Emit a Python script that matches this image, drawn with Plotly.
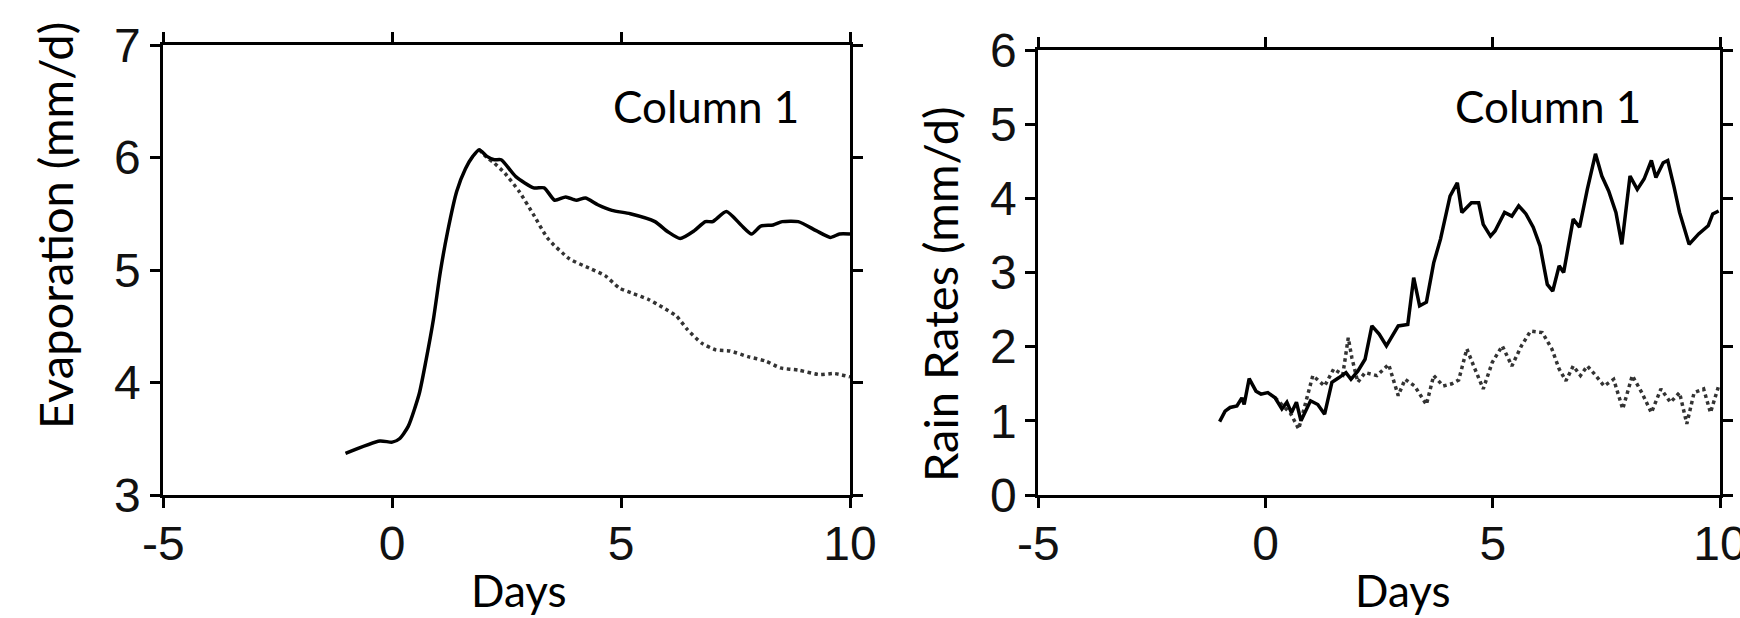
import plotly.graph_objects as go

# ---------------- data ----------------
# Left panel: Evaporation (mm/d)
evap_solid_days = [-1.02, -0.27, 0.0, 0.16, 0.35, 0.59, 0.74, 0.90, 1.05, 1.21, 1.41, 1.60, 1.76, 1.90,
                   2.07, 2.23, 2.38, 2.70, 3.09, 3.32, 3.55, 3.79, 4.02, 4.22, 4.49, 4.80, 5.20, 5.74,
                   6.02, 6.29, 6.60, 6.84, 7.00, 7.30, 7.62, 7.85, 8.05, 8.32, 8.52, 8.87, 9.26, 9.57,
                   9.77, 10.0]
evap_solid = [3.37, 3.48, 3.47, 3.50, 3.61, 3.90, 4.20, 4.56, 4.98, 5.34, 5.70, 5.90, 6.01, 6.07,
              6.01, 5.98, 5.98, 5.83, 5.73, 5.73, 5.62, 5.65, 5.62, 5.64, 5.58, 5.53, 5.50, 5.43,
              5.34, 5.28, 5.35, 5.43, 5.43, 5.52, 5.40, 5.32, 5.39, 5.40, 5.43, 5.43, 5.35, 5.29,
              5.32, 5.32]

evap_dot_days = [1.90, 2.07, 2.23, 2.46, 2.77, 3.09, 3.40, 3.87, 4.34, 4.65, 4.96, 5.27, 5.59, 5.90,
                 6.21, 6.45, 6.76, 7.07, 7.38, 7.77, 8.16, 8.48, 8.87, 9.34, 9.65, 10.0]
evap_dot = [6.07, 6.00, 5.95, 5.86, 5.70, 5.49, 5.28, 5.10, 5.01, 4.95, 4.84, 4.79, 4.74, 4.67,
            4.59, 4.47, 4.35, 4.29, 4.28, 4.23, 4.19, 4.13, 4.11, 4.07, 4.08, 4.05]

# Right panel: Rain Rates (mm/d)
rain_solid_days = [-1.01, -0.89, -0.78, -0.63, -0.52, -0.47, -0.36, -0.21, -0.10, 0.05, 0.21, 0.36,
                   0.47, 0.57, 0.68, 0.78, 0.99, 1.15, 1.30, 1.46, 1.61, 1.77, 1.88, 2.03, 2.19, 2.34,
                   2.50, 2.66, 2.92, 3.13, 3.26, 3.39, 3.54, 3.70, 3.85, 4.06, 4.22, 4.32, 4.53, 4.69,
                   4.79, 4.95, 5.05, 5.26, 5.42, 5.57, 5.73, 5.89, 6.04, 6.20, 6.32, 6.46, 6.56, 6.77,
                   6.91, 7.08, 7.26, 7.40, 7.55, 7.71, 7.84, 8.02, 8.18, 8.33, 8.49, 8.59, 8.75, 8.85,
                   8.99, 9.11, 9.32, 9.53, 9.74, 9.84, 9.97]
rain_solid = [0.99, 1.13, 1.18, 1.20, 1.31, 1.22, 1.57, 1.40, 1.36, 1.38, 1.31, 1.16,
              1.25, 1.11, 1.25, 1.00, 1.27, 1.22, 1.09, 1.52, 1.58, 1.65, 1.56, 1.67, 1.83, 2.28,
              2.17, 2.01, 2.28, 2.30, 2.93, 2.55, 2.60, 3.13, 3.45, 4.03, 4.21, 3.81, 3.94, 3.94,
              3.65, 3.49, 3.56, 3.81, 3.76, 3.90, 3.79, 3.61, 3.36, 2.84, 2.75, 3.09, 3.00, 3.72,
              3.61, 4.12, 4.60, 4.30, 4.10, 3.81, 3.38, 4.30, 4.12, 4.26, 4.51, 4.28, 4.48, 4.51,
              4.15, 3.81, 3.38, 3.52, 3.63, 3.79, 3.83]

rain_dot_days = [0.21, 0.40, 0.55, 0.73, 0.94, 1.04, 1.30, 1.50, 1.70, 1.82, 1.90, 2.03, 2.19, 2.45,
                 2.71, 2.92, 3.07, 3.28, 3.54, 3.70, 3.91, 4.10, 4.25, 4.43, 4.58, 4.79, 4.99, 5.21,
                 5.42, 5.63, 5.83, 6.09, 6.30, 6.46, 6.61, 6.77, 6.93, 7.08, 7.24, 7.45, 7.66, 7.86,
                 8.07, 8.28, 8.49, 8.70, 8.91, 9.11, 9.27, 9.43, 9.64, 9.79, 9.97]
rain_dot = [1.31, 1.20, 1.10, 0.89, 1.38, 1.61, 1.47, 1.70, 1.62, 2.12, 1.85, 1.52, 1.65, 1.61,
            1.76, 1.34, 1.56, 1.47, 1.22, 1.61, 1.47, 1.50, 1.55, 1.97, 1.74, 1.43, 1.79, 2.01,
            1.74, 2.01, 2.21, 2.19, 1.97, 1.70, 1.54, 1.74, 1.61, 1.74, 1.63, 1.47, 1.56, 1.16,
            1.61, 1.38, 1.11, 1.43, 1.25, 1.38, 0.96, 1.38, 1.43, 1.11, 1.47]

x_tick_vals = [-5, 0, 5, 10]
x_tick_text = ["-5", "0", "5", "10"]
evap_ticks = [3, 4, 5, 6, 7]
rain_ticks = [0, 1, 2, 3, 4, 5, 6]

# ---------------- figure ----------------
W, H = 1740, 618
fig = go.Figure()

line_solid = dict(color="black", width=3.5)
line_dot = dict(color="#333333", width=3.5, dash="dot")

fig.add_trace(go.Scatter(x=evap_dot_days, y=evap_dot, mode="lines",
                         line=dict(line_dot, shape="spline", smoothing=0.6),
                         xaxis="x", yaxis="y", showlegend=False))
fig.add_trace(go.Scatter(x=evap_solid_days, y=evap_solid, mode="lines",
                         line=dict(line_solid, shape="spline", smoothing=0.6),
                         xaxis="x", yaxis="y", showlegend=False))
fig.add_trace(go.Scatter(x=rain_dot_days, y=rain_dot, mode="lines", line=line_dot,
                         xaxis="x2", yaxis="y2", showlegend=False))
fig.add_trace(go.Scatter(x=rain_solid_days, y=rain_solid, mode="lines", line=line_solid,
                         xaxis="x2", yaxis="y2", showlegend=False))

tick_font = dict(family="Liberation Sans Narrow, Liberation Sans, Arial, sans-serif",
                 size=48, color="#111111")
common = dict(showline=True, linecolor="black", linewidth=3, mirror="ticks",
              ticks="outside", ticklen=10, tickwidth=3, tickcolor="black",
              showgrid=False, zeroline=False, tickfont=tick_font, fixedrange=True,
              automargin=False, ticklabeloverflow="allow")

fig.update_layout(
    width=W, height=H,
    margin=dict(l=0, r=0, t=0, b=0, autoexpand=False),
    paper_bgcolor="white", plot_bgcolor="white",
    xaxis=dict(domain=[163.3 / W, 850 / W], range=[-5, 10], tickvals=x_tick_vals,
               ticktext=x_tick_text, anchor="y", ticklabelstandoff=-6, **common),
    yaxis=dict(domain=[123 / H, 573 / H], range=[3, 7], tickvals=evap_ticks,
               anchor="x", ticklabelstandoff=0, **common),
    xaxis2=dict(domain=[1038.3 / W, 1720 / W], range=[-5, 10], tickvals=x_tick_vals,
                ticktext=x_tick_text, anchor="y2", ticklabelstandoff=-6, **common),
    yaxis2=dict(domain=[123 / H, 568 / H], range=[0, 6], tickvals=rain_ticks,
                anchor="x2", ticklabelstandoff=-1, **common),
)

annots = [
    dict(text="Evaporation (mm/d)", x=55, y=226, textangle=-90, size=47),
    dict(text="Rain Rates (mm/d)", x=940, y=294, textangle=-90, size=47),
    dict(text="Days", x=519, y=590, textangle=0, size=44),
    dict(text="Days", x=1403, y=590, textangle=0, size=44),
    dict(text="Column 1", x=706, y=106, textangle=0, size=44),
    dict(text="Column 1", x=1548, y=106, textangle=0, size=44),
]
for a in annots:
    fig.add_annotation(text=a["text"], x=a["x"] / W, y=1 - a["y"] / H, xref="paper", yref="paper",
                       xanchor="center", yanchor="middle", showarrow=False,
                       textangle=a["textangle"],
                       font=dict(family="Lato, Open Sans, sans-serif", size=a["size"], color="black"))

fig.write_html("out.html", config={"displayModeBar": False},
               post_script="document.body.style.margin='0';")
